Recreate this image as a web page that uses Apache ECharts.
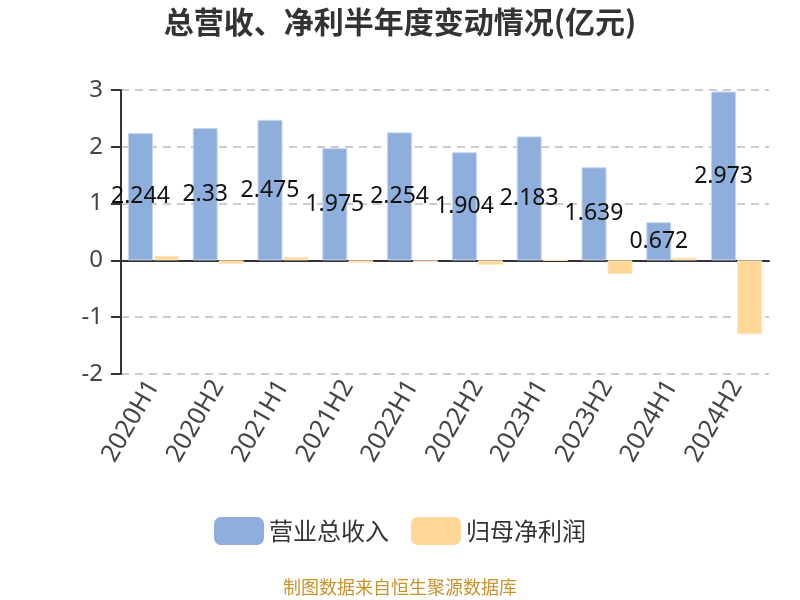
<!DOCTYPE html>
<html><head><meta charset="utf-8">
<script src="https://cdn.jsdelivr.net/npm/echarts@6/dist/echarts.min.js"></script>
<style>html,body{margin:0;padding:0;background:#fff}#c{width:800px;height:600px}</style>
</head><body><div id="c"></div>
<script>
var categories = ['2020H1','2020H2','2021H1','2021H2','2022H1','2022H2','2023H1','2023H2','2024H1','2024H2'];
var revenue = [2.244, 2.33, 2.475, 1.975, 2.254, 1.904, 2.183, 1.639, 0.672, 2.973];
var netProfit = [0.08, -0.06, 0.06, -0.05, -0.03, -0.08, 0.003, -0.24, 0.05, -1.30];
var seriesNames = ['营业总收入', '归母净利润'];
var yTicks = {min: -2, max: 3, interval: 1};

var font = '"Noto Sans", "Noto Sans CJK SC", sans-serif';
var cjk = '"Noto Sans CJK SC", sans-serif';
var chart = echarts.init(document.getElementById('c'));
chart.setOption({
  animation: false,
  textStyle: {fontFamily: font},
  title: {
    text: '总营收、净利半年度变动情况(亿元)',
    left: 'center', top: 2,
    textStyle: {fontSize: 30, fontWeight: 'bold', color: '#333', fontFamily: cjk}
  },
  legend: {
    bottom: 50, left: 'center',
    itemWidth: 50, itemHeight: 28, itemGap: 22,
    itemStyle: {borderRadius: 6, borderWidth: 0},
    textStyle: {fontSize: 24, color: '#333', fontFamily: cjk},
    data: seriesNames
  },
  graphic: [{
    type: 'text', left: 'center', top: 578,
    style: {text: '制图数据来自恒生聚源数据库', fill: '#c8922c', fontSize: 18, fontFamily: cjk}
  }],
  grid: {left: 121, right: 31, top: 90, bottom: 226},
  xAxis: {
    type: 'category', data: categories,
    axisLine: {lineStyle: {color: '#333', width: 2}},
    axisTick: {length: 10, lineStyle: {color: '#333', width: 2}},
    axisLabel: {rotate: 60, fontSize: 25, color: '#444', margin: 8, interval: 0}
  },
  yAxis: {
    type: 'value', min: yTicks.min, max: yTicks.max, interval: yTicks.interval,
    axisLine: {show: true, lineStyle: {color: '#333', width: 2}},
    axisTick: {show: true, length: 10, lineStyle: {color: '#333', width: 2}},
    axisLabel: {fontSize: 24, color: '#444', margin: 18},
    splitLine: {lineStyle: {type: [8, 6], color: '#ccc', width: 2}}
  },
  series: [{
    name: seriesNames[0], type: 'bar', data: revenue,
    barWidth: 25, barGap: '4%',
    itemStyle: {color: '#8eaedb', borderColor: '#c7d6ee', borderWidth: 1},
    label: {show: true, position: 'inside', color: '#111', fontSize: 23}
  }, {
    name: seriesNames[1], type: 'bar', data: netProfit,
    barWidth: 25,
    itemStyle: {color: '#ffd898', borderColor: '#ffe8c2', borderWidth: 1}
  }]
});
</script></body></html>
